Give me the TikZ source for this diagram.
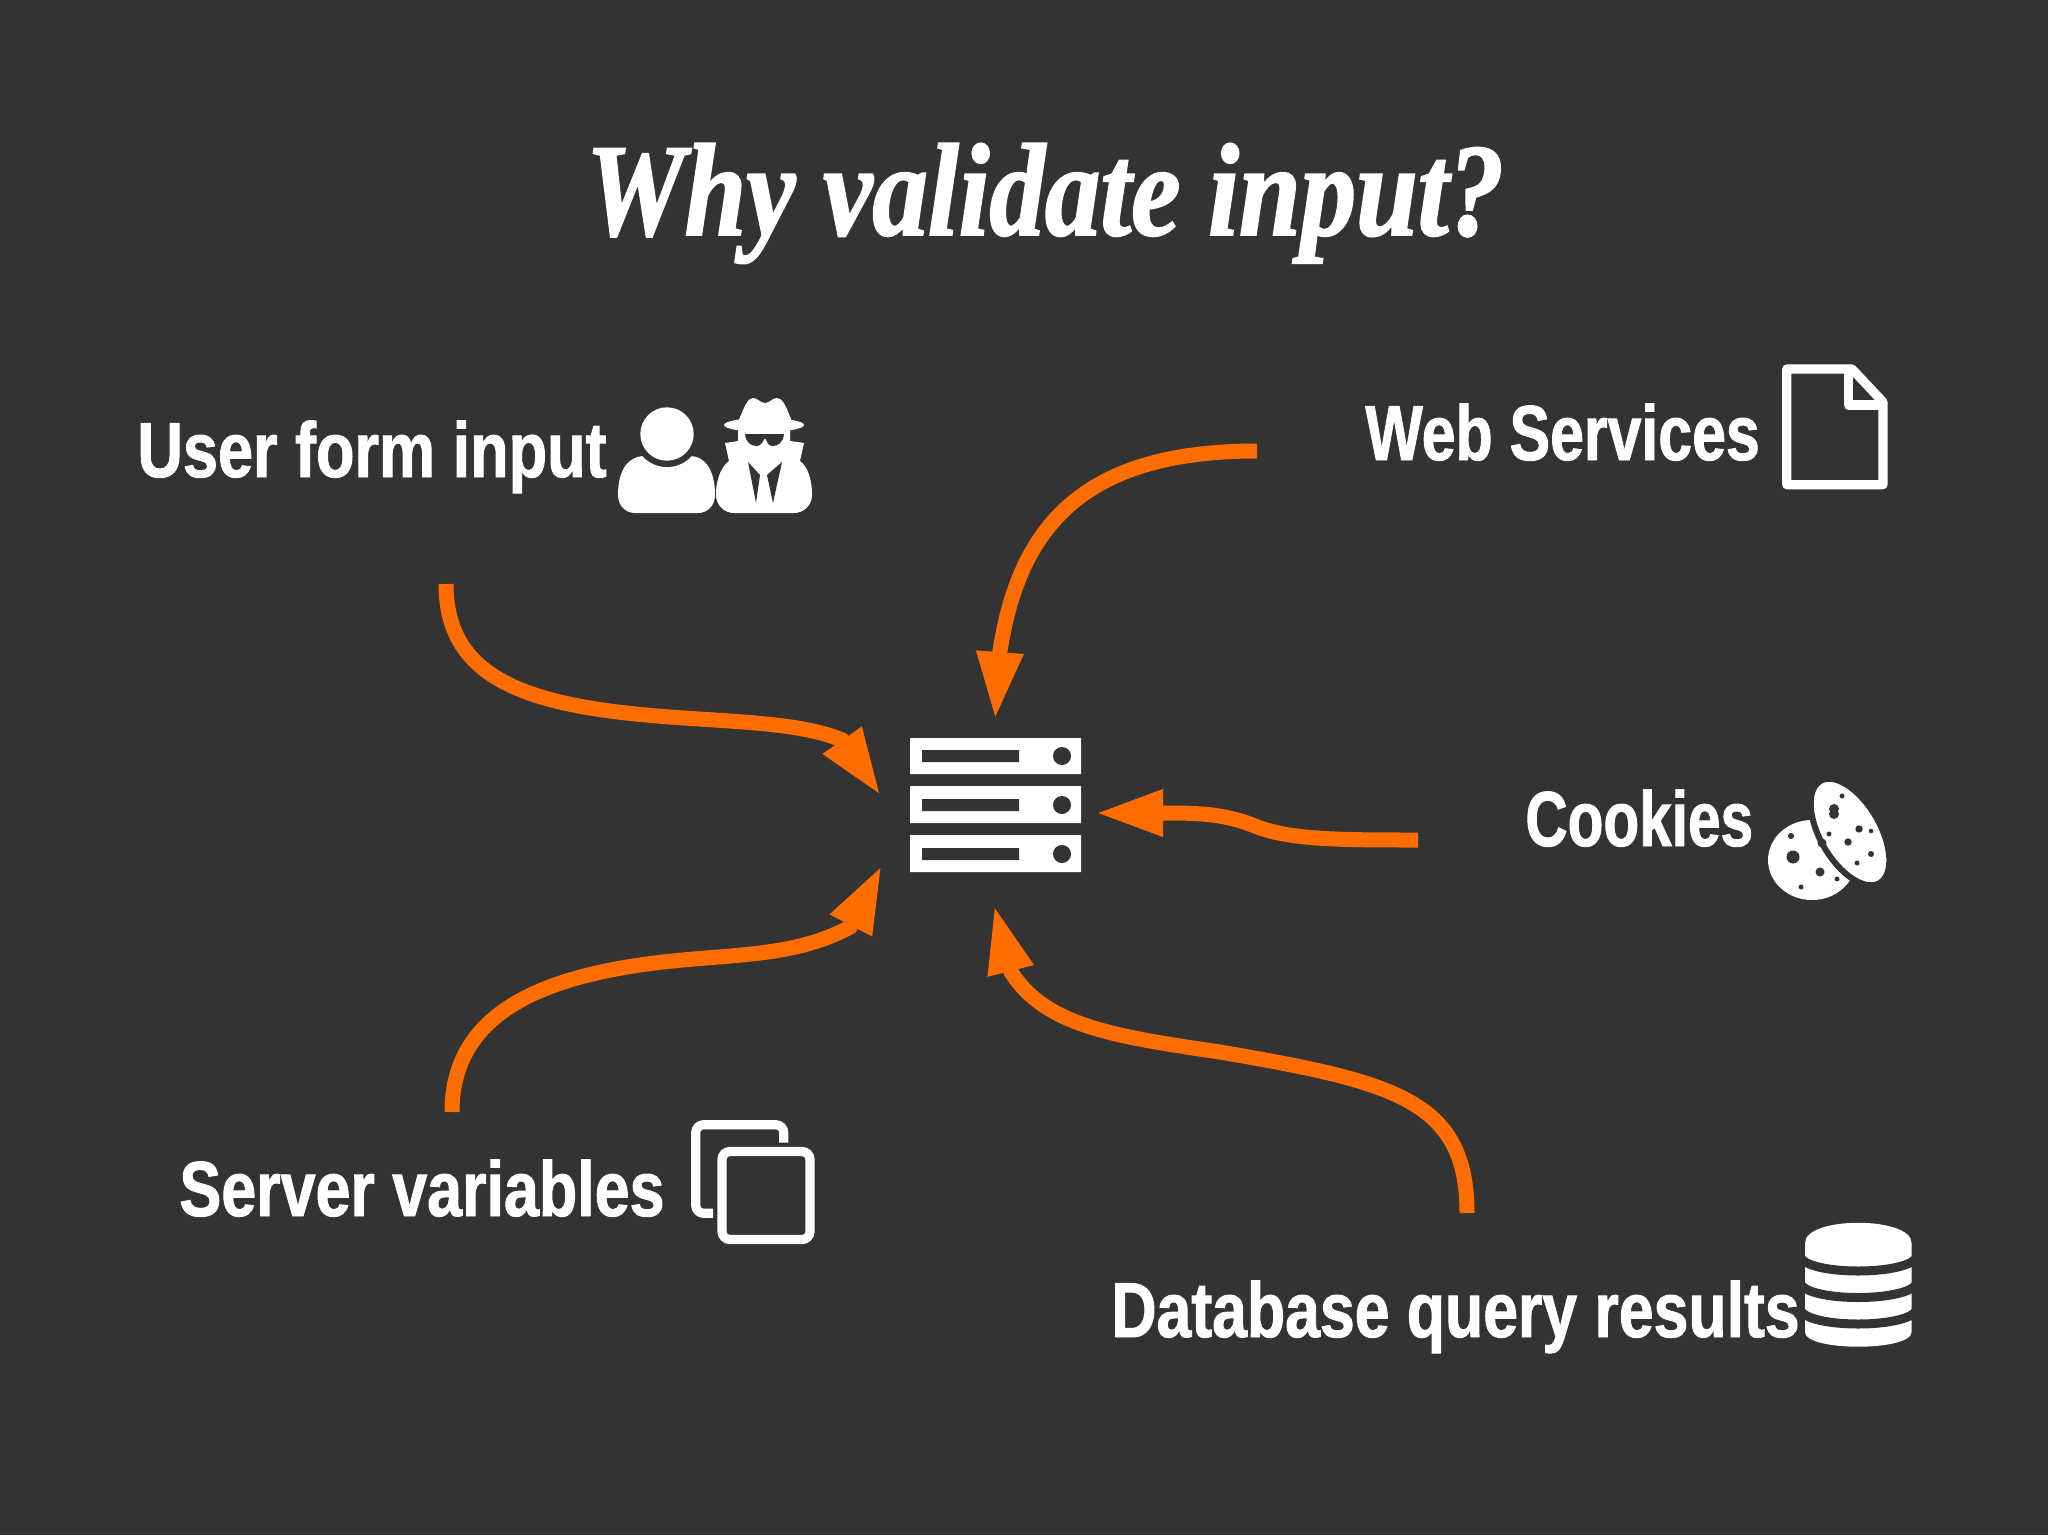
\documentclass[tikz,border=0pt]{standalone}
\usepackage{fontspec}
\usetikzlibrary{arrows.meta,calc}
\newfontfamily\lblfont[FakeStretch=0.79,BoldFeatures={FakeBold=1.2}]{Liberation Sans}
\newfontfamily\ttlfont[FakeStretch=0.84,BoldItalicFeatures={FakeBold=1.5}]{Liberation Serif}
\definecolor{bgdark}{HTML}{333333}
\definecolor{flow}{HTML}{FF6D00}
\tikzset{
    lbl/.style={text=white,inner sep=0pt,anchor=base west,transform shape,font=\lblfont\bfseries\fontsize{39}{39}\selectfont},
    ttl/.style={text=white,inner sep=0pt,anchor=base,font=\ttlfont\bfseries\itshape\fontsize{66}{66}\selectfont},
    flowline/.style={draw=flow,line width=7.5pt,-{Triangle[length=34pt,width=21.5pt,fill=flow]}},
    iconline/.style={draw=white,line width=4.6pt},
}
\begin{document}
\begin{tikzpicture}[x=0.5pt,y=-0.5pt]
    \fill[bgdark] (0,0) rectangle (2048,1535);
    \useasboundingbox (0,0) rectangle (2048,1535);

    \node[ttl] (title) at (1045,235) {Why validate input?};
    \node[lbl,xscale=1.023] (user) at (137,477) {User form input};
    \node[lbl,xscale=0.987] (web) at (1365,460) {Web Services};
    \node[lbl,xscale=0.95] (cookies) at (1525,846) {Cookies};
    \node[lbl,xscale=1.019] (server_vars) at (179,1216) {Server variables};
    \node[lbl,xscale=1.015] (database) at (1111,1337) {Database query results};

    % server rack
    \node[minimum width=85.5pt,minimum height=67pt,inner sep=0pt] (rack) at (995.5,805) {};
    \fill[white] (910,738) rectangle (1081,774) (910,786) rectangle (1081,823) (910,835) rectangle (1081,872);
    \fill[bgdark] (922,750) rectangle (1019,762) (922,799) rectangle (1019,811) (922,848) rectangle (1019,860);
    \fill[bgdark] (1062,756) circle (9) (1062,805) circle (9) (1062,854) circle (9);

    % connector ends
    \coordinate (a0) at (446,584);
    \coordinate (a1) at (842,740);
    \coordinate (a2) at (881,796);
    \coordinate (b0) at (452,1112);
    \coordinate (b1) at (850,927);
    \coordinate (b2) at (882,865);
    \coordinate (c0) at (1257,451);
    \coordinate (c1) at (1000,651);
    \coordinate (c2) at (995,720);
    \coordinate (d0) at (1467,1213);
    \coordinate (d1) at (1011,972);
    \coordinate (d2) at (994,905);
    \coordinate (e0) at (1418,840);
    \coordinate (e1) at (1165,813);
    \coordinate (e2) at (1095,813);

    \draw[flowline] (a0) .. controls (446,665) and (505,697) .. (610,711) .. controls (700,723) and (790,718) .. (a1) -- (a2);
    \draw[flowline] (b0) .. controls (452,1020) and (530,981) .. (640,965) .. controls (720,953) and (790,960) .. (b1) -- (b2);
    \draw[flowline] (c0) .. controls (1090,451) and (1020,520) .. (c1) -- (c2);
    \draw[flowline] (d0) .. controls (1467,1100) and (1395,1082) .. (1220,1052) .. controls (1110,1036) and (1045,1025) .. (d1) -- (d2);
    \draw[flowline] (e0) .. controls (1340,840) and (1290,840) .. (1255,826) .. controls (1225,814) and (1200,813) .. (e1) -- (e2);

    % person
    \fill[white] (635,513) .. controls (625,513) and (618,505) .. (618,495) .. controls (618,470) and (628,456) .. (645,456) -- (690,456) .. controls (705,456) and (715,470) .. (715,495) .. controls (715,505) and (708,513) .. (698,513) -- cycle;
    \fill[bgdark] (667,434) circle (33);
    \fill[white] (667,434) circle (26.7);

    % spy
    \fill[white] (734,513) .. controls (724,513) and (716,505) .. (716,495) .. controls (716,478) and (722,466) .. (729,461) -- (725,443) -- (738,441) -- (738,428) -- (790,428) -- (790,441) -- (804,443) -- (800,461) .. controls (807,466) and (812,478) .. (812,495) .. controls (812,505) and (804,513) .. (794,513) -- cycle;
    \fill[white] (764,425) ellipse [x radius=40,y radius=7];
    \fill[white] (738,422) .. controls (745,405) and (748,398) .. (753,398) .. controls (758,398) and (760,403) .. (765,403) .. controls (770,403) and (772,398) .. (777,398) .. controls (782,398) and (786,405) .. (792,422) -- cycle;
    \fill[bgdark] (745,434) -- (784,434) .. controls (783,443) and (778,446) .. (772,446) .. controls (768,446) and (767,441) .. (765,438) .. controls (763,441) and (761,446) .. (757,446) .. controls (751,446) and (746,443) .. (745,434) -- cycle;
    \fill[bgdark] (748,462) -- (760,475) -- (756,503) -- cycle (782,462) -- (767,475) -- (773,503) -- cycle;

    % document
    \draw[iconline,line join=round] (1786.7,369) -- (1852,369) -- (1883,402) -- (1883,484.7) -- (1786.7,484.7) -- cycle;
    \draw[iconline,line join=round] (1848.5,369) -- (1848.5,405) -- (1883,405);

    % cookies
    \fill[white] (1812,860) ellipse [x radius=44,y radius=40];
    \draw[bgdark,fill=white,line width=3pt,rotate around={-60:(1850,832)}] (1850,832) ellipse [x radius=59,y radius=30];
    \fill[bgdark] (1793,857) circle (6.5) (1820,872) circle (4.5) (1791,836) circle (3) (1801,887) circle (2.5) (1837,879) circle (2.5) (1822,843) circle (4.5)
        (1834,809) circle (5) (1834,814) circle (5) (1859,829) circle (3.7) (1848,842) circle (3.7) (1842,796) circle (2.5) (1829,834) circle (2.5) (1871,831) circle (2.3) (1871,854) circle (3) (1857,863) circle (2.5);

    % copies
    \draw[iconline,rounded corners=4pt] (713,1213.3) -- (695.7,1213.3) -- (695.7,1124.7) -- (783.7,1124.7) -- (783.7,1142.7);
    \draw[iconline,rounded corners=4pt] (722,1151.5) rectangle (810,1239.5);

    % database
    \fill[white] (1805,1243) .. controls (1805,1216) and (1911.5,1216) .. (1911.5,1243) -- (1911.5,1332) .. controls (1911.5,1351.6) and (1805,1351.6) .. (1805,1332) -- cycle;
    \draw[bgdark,line width=4.5pt] (1800,1256) .. controls (1805,1276) and (1911,1276) .. (1917,1256);
    \draw[bgdark,line width=4.5pt] (1800,1282.5) .. controls (1805,1302.5) and (1911,1302.5) .. (1917,1282.5);
    \draw[bgdark,line width=4.5pt] (1800,1309) .. controls (1805,1329) and (1911,1329) .. (1917,1309);
\end{tikzpicture}
\end{document}
